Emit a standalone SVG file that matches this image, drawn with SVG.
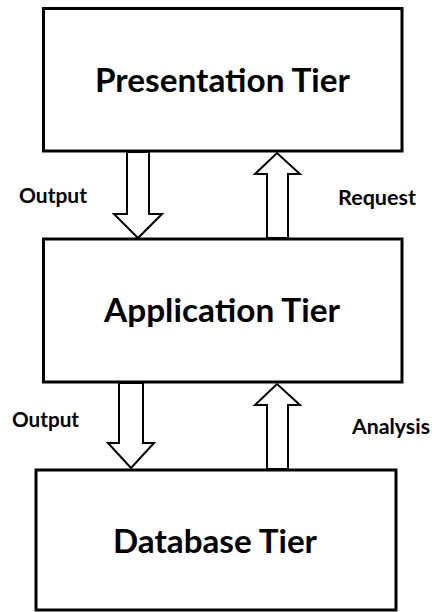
<svg xmlns="http://www.w3.org/2000/svg" width="432" height="612" viewBox="0 0 432 612">
<style>
.box{fill:#fff;stroke:#000;stroke-width:3}
.arr{fill:#fff;stroke:#000;stroke-width:2;stroke-linejoin:miter}
.title{font-family:Lato,"Liberation Sans",sans-serif;font-weight:bold;font-size:32px;fill:#000}
.lbl{font-family:Lato,"Liberation Sans",sans-serif;font-weight:bold;font-size:20px;fill:#000}
</style>
<rect width="432" height="612" fill="#fff"/>
<g id="presentation">
<rect class="box" x="43.5" y="8.5" width="358.5" height="142.5"/>
<text class="title" x="95" y="92" textLength="255" lengthAdjust="spacingAndGlyphs">Presentation Tier</text>
</g>
<g id="application">
<rect class="box" x="43.5" y="239" width="358.5" height="143"/>
<text class="title" x="104" y="322" textLength="236" lengthAdjust="spacingAndGlyphs">Application Tier</text>
</g>
<g id="database">
<rect class="box" x="36" y="470" width="360" height="140"/>
<text class="title" x="113" y="553" textLength="204" lengthAdjust="spacingAndGlyphs">Database Tier</text>
</g>
<g id="connectors">
<polygon class="arr" points="127,152 149,152 149,214 162,214 138,238 114,214 127,214"/>
<polygon class="arr" points="267,238 267,174 255,174 277,153 300,174 288,174 288,238"/>
<polygon class="arr" points="119,383 143,383 143,443 154,443 131,468 108,443 119,443"/>
<polygon class="arr" points="267,469 267,405 255,405 277,384 300,405 288,405 288,469"/>
<text class="lbl" x="19" y="203" textLength="68" lengthAdjust="spacingAndGlyphs">Output</text>
<text class="lbl" x="338" y="205" textLength="78" lengthAdjust="spacingAndGlyphs">Request</text>
<text class="lbl" x="12" y="427" textLength="67" lengthAdjust="spacingAndGlyphs">Output</text>
<text class="lbl" x="352" y="434" textLength="78" lengthAdjust="spacingAndGlyphs">Analysis</text>
</g>
</svg>
